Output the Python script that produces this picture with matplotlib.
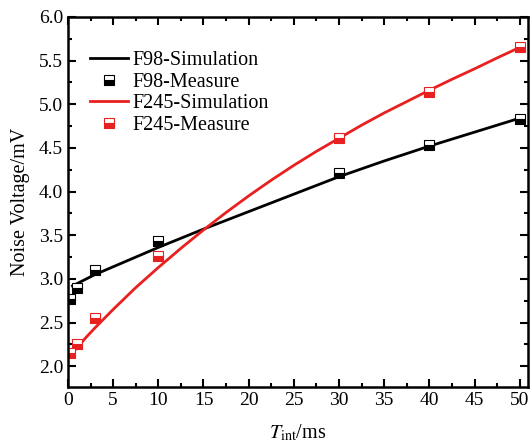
import matplotlib
matplotlib.use("Agg")
import matplotlib.pyplot as plt
from matplotlib.ticker import MultipleLocator, FormatStrFormatter

plt.rcParams["font.family"] = "Liberation Serif"
plt.rcParams["mathtext.fontset"] = "stix"

# measured points
meas_t = [0.2, 1, 3, 10, 30, 40, 50]
f98_meas = [2.77, 2.90, 3.10, 3.43, 4.21, 4.53, 4.83]
f245_meas = [2.15, 2.26, 2.55, 3.26, 4.61, 5.14, 5.65]

# simulation curves
f98_sim_t = [0.5, 3, 10, 15, 20, 25, 30, 35, 40, 45, 50]
f98_sim = [2.92, 3.05, 3.36, 3.57, 3.77, 3.97, 4.17, 4.35, 4.52, 4.68, 4.84]
f245_sim_t = [0, 1, 2, 3, 5, 7.5, 10, 12.5, 15, 17.5, 20, 22.5, 25, 27.5,
              30, 32.5, 35, 37.5, 40, 42.5, 45, 47.5, 50]
f245_sim = [2.10, 2.21, 2.33, 2.44, 2.65, 2.90, 3.13, 3.35, 3.56, 3.76, 3.95,
            4.13, 4.30, 4.46, 4.61, 4.76, 4.90, 5.03, 5.16, 5.285, 5.405, 5.53, 5.65]

fig = plt.figure(figsize=(5.31, 4.44), dpi=100)
ax = fig.add_axes([0.128, 0.128, 0.866, 0.834])

red = "#e8201f"
ax.plot(f98_sim_t, f98_sim, "-", color="black", lw=2, label="F98-Simulation")
ax.plot(meas_t, f98_meas, "s", ls="none", ms=6.5, mfc="black", mec="black",
        fillstyle="bottom", markerfacecoloralt="white", mew=0.8, label="F98-Measure")
ax.plot(f245_sim_t, f245_sim, "-", color=red, lw=2, label="F245-Simulation")
ax.plot(meas_t, f245_meas, "s", ls="none", ms=6.5, mfc=red, mec=red,
        fillstyle="bottom", markerfacecoloralt="white", mew=0.8, label="F245-Measure")

ax.set_xlim(0, 50.9)
ax.set_ylim(1.76, 6.0)
ax.xaxis.set_major_locator(MultipleLocator(5))
ax.xaxis.set_minor_locator(MultipleLocator(2.5))
ax.yaxis.set_major_locator(MultipleLocator(0.5))
ax.yaxis.set_minor_locator(MultipleLocator(0.25))
ax.yaxis.set_major_formatter(FormatStrFormatter("%.1f"))
ax.tick_params(which="both", direction="in", top=True, right=True, width=1.5,
               labelsize=14)
ax.tick_params(which="major", length=6)
ax.tick_params(which="minor", length=3)
for s in ax.spines.values():
    s.set_linewidth(1.8)

ax.set_xlabel(r"$T_{\rm int}$/ms", fontsize=14.5, labelpad=10)
ax.set_ylabel("Noise Voltage/mV", fontsize=14.5, labelpad=6)

ax.legend(loc="upper left", bbox_to_anchor=(0.017, 0.945), frameon=False,
          fontsize=14.5, handlelength=1.9, handletextpad=0.2,
          labelspacing=0.12, borderaxespad=0.3)

fig.savefig("out.png", dpi=100)
